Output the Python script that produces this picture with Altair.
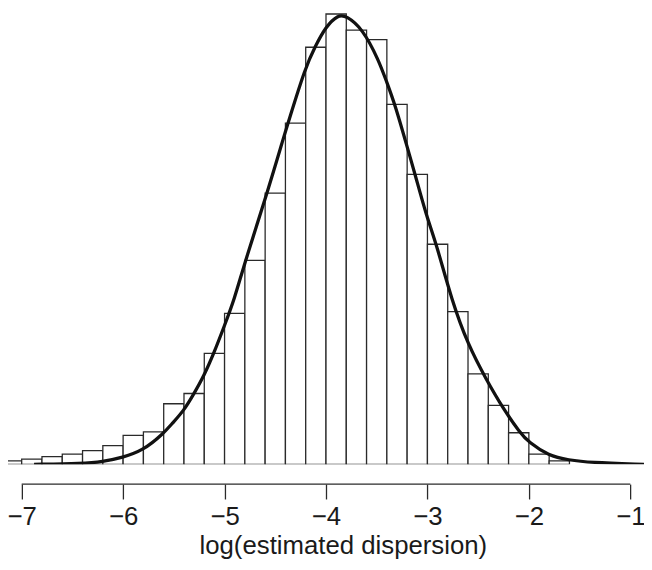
import altair as alt
import pandas as pd

# ---- data ----
BIN_LEFT = [-7.2, -7.0, -6.8, -6.6, -6.4, -6.2, -6.0, -5.8, -5.6, -5.4,
            -5.2, -5.0, -4.8, -4.6, -4.4, -4.2, -4.0, -3.8, -3.6, -3.4,
            -3.2, -3.0, -2.8, -2.6, -2.4, -2.2, -2.0, -1.8]
BIN_WIDTH = 0.2
BIN_DENSITY = [0.004, 0.006, 0.009, 0.012, 0.016, 0.022, 0.034, 0.038, 0.071, 0.083,
               0.130, 0.177, 0.239, 0.318, 0.400, 0.489, 0.528, 0.509, 0.498, 0.422,
               0.340, 0.258, 0.179, 0.106, 0.069, 0.037, 0.012, 0.004]

CURVE_X = [-6.878, -6.397, -6.205, -6.007, -5.805, -5.603, -5.516, -5.401, -5.301, -5.202,
           -5.103, -5.000, -4.907, -4.795, -4.580, -4.411, -4.372, -4.202, -4.106, -4.003,
           -3.882, -3.801, -3.641, -3.481, -3.404, -3.320, -3.202, -3.122, -3.007, -2.913,
           -2.760, -2.599, -2.423, -2.247, -2.087, -2.003, -1.805, -1.606, -1.407,
           -0.865]
CURVE_Y = [0.000, 0.001, 0.003, 0.008, 0.016, 0.036, 0.048, 0.063, 0.083, 0.104,
           0.131, 0.163, 0.192, 0.239, 0.318, 0.386, 0.401, 0.466, 0.490, 0.513,
           0.527, 0.526, 0.511, 0.474, 0.449, 0.422, 0.373, 0.340, 0.290, 0.259,
           0.192, 0.140, 0.100, 0.064, 0.037, 0.026, 0.010, 0.005, 0.002,
           0.000]

X_TICKS = [-7, -6, -5, -4, -3, -2, -1]
X_TITLE = "log(estimated dispersion)"

# ---- layout ----
W, H = 642, 458
X_DOMAIN = [-7.135, -0.865]
Y_MAX = 0.532
FONT = "Liberation Sans"
INK = "#1a1a1a"

bars_df = pd.DataFrame({
    "left": BIN_LEFT,
    "right": [round(v + BIN_WIDTH, 2) for v in BIN_LEFT],
    "density": BIN_DENSITY,
})
curve_df = pd.DataFrame({"x": CURVE_X, "y": CURVE_Y})
axis_df = pd.DataFrame({"start": [min(X_TICKS)], "end": [max(X_TICKS)]})

xscale = alt.Scale(domain=X_DOMAIN, nice=False, zero=False)
yscale = alt.Scale(domain=[0, Y_MAX], nice=False, zero=True)

xaxis = alt.Axis(
    values=X_TICKS, domain=False, grid=False, offset=20,
    tickSize=15, tickWidth=1.3, tickColor="#2a2a2a",
    labelFontSize=26, labelFont=FONT, labelColor=INK, labelPadding=5,
    labelFlush=False, labelOverlap=False, labelBound=False,
    title=X_TITLE, titleFontSize=26, titleFont=FONT, titleFontWeight="normal",
    titleColor=INK, titleX=338, titleY=70, titleBaseline="alphabetic",
    titleAlign="center",
)

bars = alt.Chart(bars_df).mark_rect(
    fill="white", stroke="#2a2a2a", strokeWidth=1.3, clip=True
).encode(
    x=alt.X("left:Q", scale=xscale, axis=xaxis, title=X_TITLE),
    x2="right:Q",
    y=alt.Y("density:Q", scale=yscale, axis=None),
    y2=alt.datum(0),
)

curve = alt.Chart(curve_df).mark_line(
    color="#111111", strokeWidth=3.3, interpolate="basis", clip=True
).encode(
    x=alt.X("x:Q", scale=xscale, axis=xaxis, title=X_TITLE),
    y=alt.Y("y:Q", scale=yscale, axis=None),
)

axis_line = alt.Chart(axis_df).mark_rule(color="#2a2a2a", strokeWidth=1.3).encode(
    x=alt.X("start:Q", scale=xscale, axis=xaxis, title=X_TITLE),
    x2="end:Q",
    y=alt.value(H + 20),
)

chart = alt.layer(bars, curve, axis_line).properties(
    width=W, height=H,
    autosize=alt.AutoSizeParams(type="none"),
    padding={"left": 0, "right": 0, "top": 0, "bottom": 95},
).configure_view(stroke=None)

chart.save("out.html", embed_options={"renderer": "svg", "actions": False})
